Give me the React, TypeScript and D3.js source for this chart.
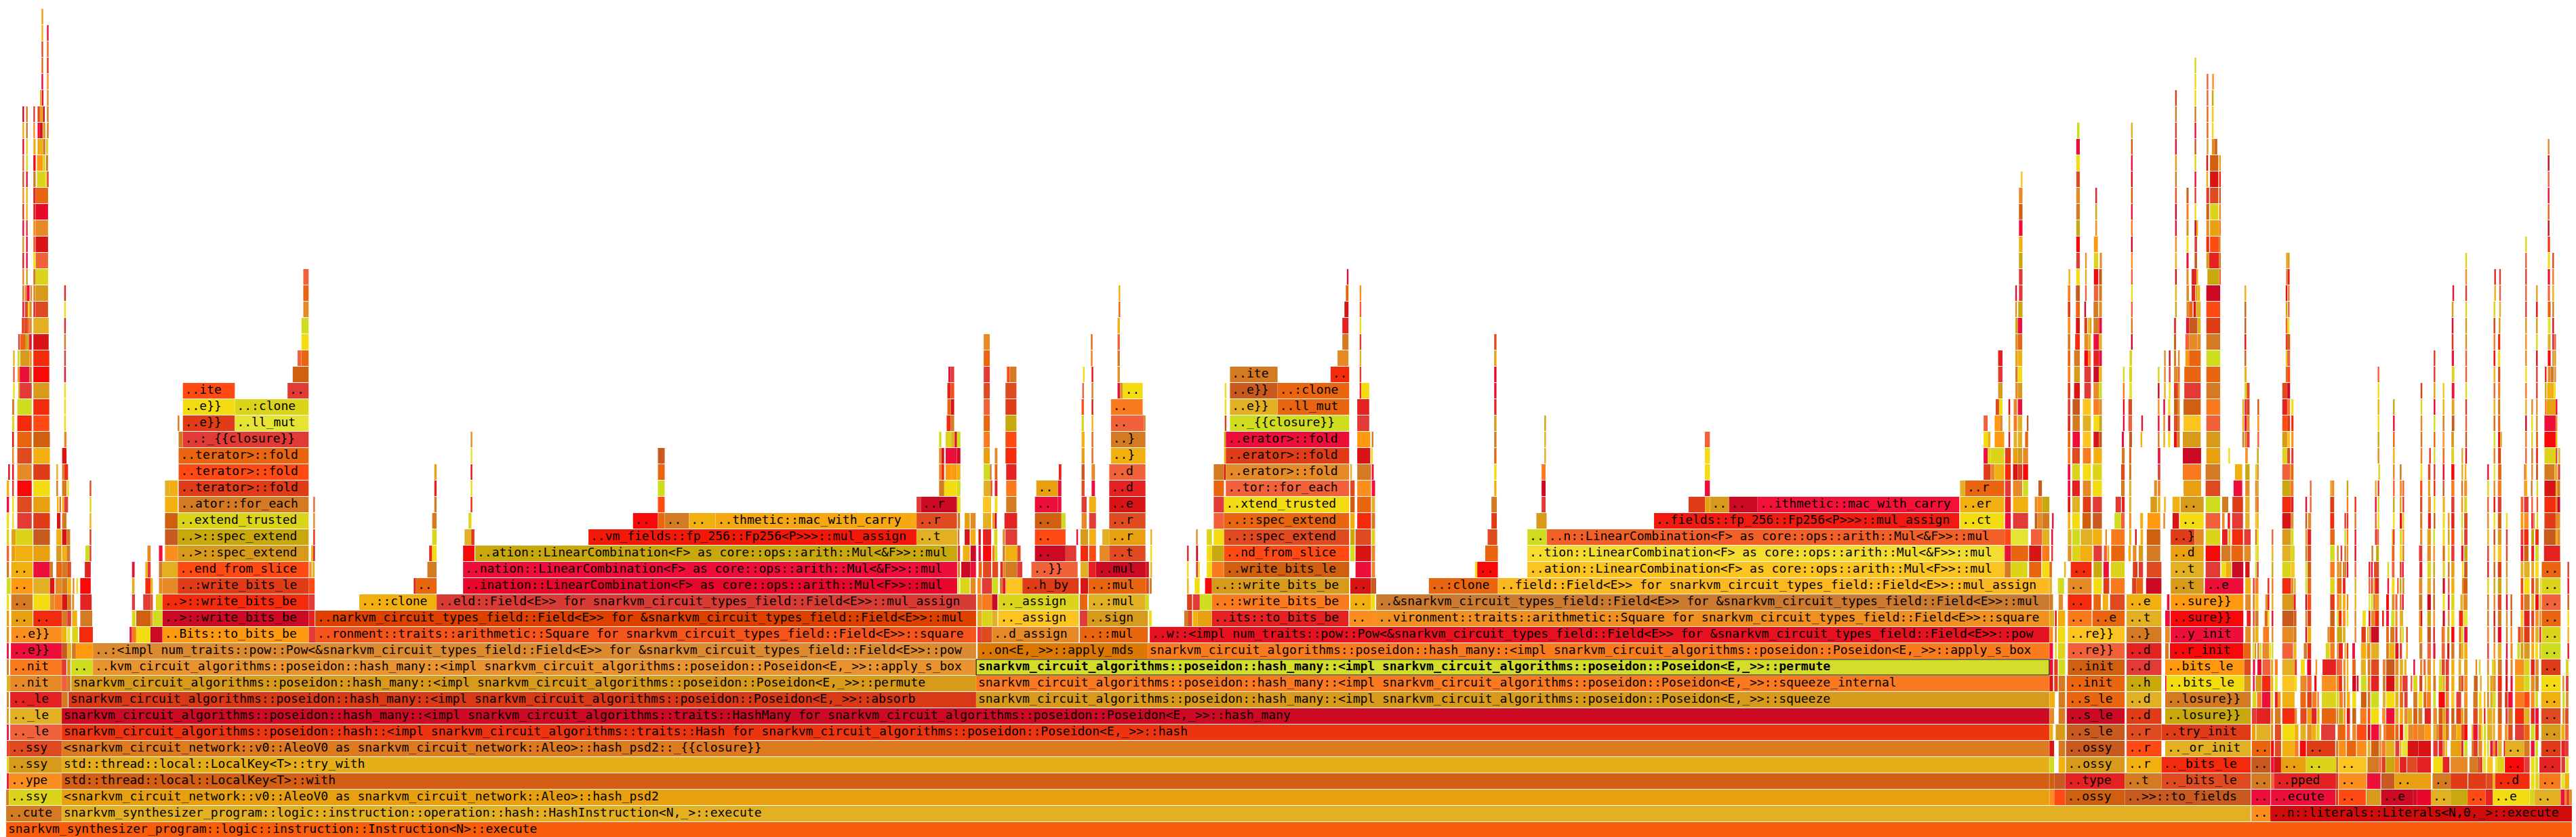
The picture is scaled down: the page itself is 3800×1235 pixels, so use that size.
import React from "react";
import * as d3 from "d3";

// Flame-graph colours, addressed by short keys from the stacks below.
const palette: Record<string, string> = {
  A: "#f80808", B: "#e8082a", C: "#cc0a24", D: "#d81414", E: "#e52222", F: "#e23a34", G: "#f42a0c", H: "#e03c18",
  I: "#ff4a14", J: "#f95d0a", K: "#e9650f", L: "#fa7a1e", M: "#fa8e1e", N: "#e68a28", O: "#d47a22", P: "#d06010",
  Q: "#c85a20", R: "#f2623a", S: "#e8a010", T: "#e2b022", U: "#f2b010", V: "#fcc420", W: "#f4dc12", X: "#dcd41a",
  Y: "#d0dc20", Z: "#e6e432", a: "#c8a80c", b: "#d89a1a", c: "#ee0e3a", d: "#e04a20", e: "#ff9a10",
  g1: "#ed3410", g2: "#d83a18", g3: "#de7b20", g4: "#d45f14", g5: "#e6ae18", g7: "#dc8a30", g8: "#ea9430", g9: "#f5541a",
  h1: "#de4000", h2: "#d83a34", h4: "#e8062a", h5: "#f5a812", h6: "#f41808", h7: "#e61220", h8: "#f09020", h9: "#cc7a30",
  i1: "#fbb820", i2: "#f4dc30", i4: "#f26027", i5: "#f01a10", i6: "#f41038", i7: "#d4dc2c", i8: "#fa7a22", j1: "#cf0c0c", j2: "#dc7800",
};

const rootFrame = "snarkvm_synthesizer_program::logic::instruction::Instruction<N>::execute";
const activeFrame = "snarkvm_circuit_algorithms::poseidon::hash_many::<impl snarkvm_circuit_algorithms::poseidon::Poseidon<E,_>>::permute";

type Stack = [number, string][];

// Each stack: [depth, "from to colour label;..."] in sample offsets along the stack's own ruler.
const spineStack: Stack = [
  [0, `9 3794 J ${rootFrame}`],
  [1, "9 91 O ..cute;91 3320 T snarkvm_synthesizer_program::logic::instruction::operation::hash::HashInstruction<N,_>::execute;3321 3349 M ..;3349 3794 j1 ..n::literals::Literals<N,0,_>::execute"],
  [2, "9 13 O;13 91 X ..ssy;91 3023 S <snarkvm_circuit_network::v0::AleoV0 as snarkvm_circuit_network::Aleo>::hash_psd2"],
  [3, "10 13 c;13 91 M ..ype;91 3023 g4 std::thread::local::LocalKey<T>::with"],
  [4, "10 13 X;13 91 b ..ssy;91 3023 g5 std::thread::local::LocalKey<T>::try_with"],
  [5, "10 13 H;13 91 d ..ssy;91 3023 g3 <snarkvm_circuit_network::v0::AleoV0 as snarkvm_circuit_network::Aleo>::hash_psd2::_{{closure}}"],
  [6, "10 13 c;15 91 R .._le;91 3023 g1 snarkvm_circuit_algorithms::poseidon::hash::<impl snarkvm_circuit_algorithms::traits::Hash for snarkvm_circuit_algorithms::poseidon::Poseidon<E,_>>::hash"],
  [7, "10 13 b;15 91 T .._le;91 3023 C snarkvm_circuit_algorithms::poseidon::hash_many::<impl snarkvm_circuit_algorithms::traits::HashMany for snarkvm_circuit_algorithms::poseidon::Poseidon<E,_>>::hash_many"],
  [8, "10 13 O;15 91 E .._le;91 100 O;101 1440 g2 snarkvm_circuit_algorithms::poseidon::hash_many::<impl snarkvm_circuit_algorithms::poseidon::Poseidon<E,_>>::absorb;1440 3023 b snarkvm_circuit_algorithms::poseidon::hash_many::<impl snarkvm_circuit_algorithms::poseidon::Poseidon<E,_>>::squeeze"],
  [9, "10 15 T;15 91 N ..nit;91 99 R;99 104 O;105 1440 b snarkvm_circuit_algorithms::poseidon::hash_many::<impl snarkvm_circuit_algorithms::poseidon::Poseidon<E,_>>::permute;1440 3023 i8 snarkvm_circuit_algorithms::poseidon::hash_many::<impl snarkvm_circuit_algorithms::poseidon::Poseidon<E,_>>::squeeze_internal"],
  [10, `10 13 O;15 91 L ..nit;91 98 F;99 104 b;105 137 Y ..;137 1440 g8 ..kvm_circuit_algorithms::poseidon::hash_many::<impl snarkvm_circuit_algorithms::poseidon::Poseidon<E,_>>::apply_s_box;1440 3023 i7 ${activeFrame}`],
  [11, "10 13 c;16 91 c ..e}};91 99 Q;99 105 T;106 112 O;112 137 e;137 1440 g7 ..:<impl num_traits::pow::Pow<&snarkvm_circuit_types_field::Field<E>> for &snarkvm_circuit_types_field::Field<E>>::pow;1442 1693 j2 ..on<E,_>>::apply_mds;1693 3023 L snarkvm_circuit_algorithms::poseidon::hash_many::<impl snarkvm_circuit_algorithms::poseidon::Poseidon<E,_>>::apply_s_box"],
  [12, "465 1440 g9 ..ronment::traits::arithmetic::Square for snarkvm_circuit_types_field::Field<E>>::square;1696 3023 h7 ..w::<impl num_traits::pow::Pow<&snarkvm_circuit_types_field::Field<E>> for &snarkvm_circuit_types_field::Field<E>>::pow"],
  [13, "465 1440 h1 ..narkvm_circuit_types_field::Field<E>> for &snarkvm_circuit_types_field::Field<E>>::mul;2030 3023 h8 ..vironment::traits::arithmetic::Square for snarkvm_circuit_types_field::Field<E>>::square"],
  [14, "644 1440 h2 ..eld::Field<E>> for snarkvm_circuit_types_field::Field<E>>::mul_assign;2030 3023 h9 ..&snarkvm_circuit_types_field::Field<E>> for &snarkvm_circuit_types_field::Field<E>>::mul"],
  [15, "683 1412 h4 ..ination::LinearCombination<F> as core::ops::arith::Mul<F>>::mul;2210 3023 i1 ..field::Field<E>> for snarkvm_circuit_types_field::Field<E>>::mul_assign"],
  [16, "683 1412 c ..nation::LinearCombination<F> as core::ops::arith::Mul<&F>>::mul;2253 2957 V ..ation::LinearCombination<F> as core::ops::arith::Mul<F>>::mul"],
  [17, "701 1412 a ..ation::LinearCombination<F> as core::ops::arith::Mul<&F>>::mul;2253 2957 i2 ..tion::LinearCombination<F> as core::ops::arith::Mul<&F>>::mul"],
  [18, "868 1352 h6 ..vm_fields::fp_256::Fp256<P>>>::mul_assign;1352 1412 T ..t"],
];

const leftStack: Stack = [
  [12, "22 30 b;37 205 M ..e}};205 220 U;222 232 Z;238 258 X;262 307 G;428 436 c;436 450 L;450 497 W;497 537 C;537 1020 e ..Bits::to_bits_be;1020 1042 F"],
  [13, "22 30 S;37 108 S ..;110 205 G ..;205 222 O;222 235 F;238 255 U;265 305 O;436 448 X;450 498 P;498 505 N;506 537 Y;537 1020 C ..>::write_bits_be;1020 1040 E"],
  [14, "22 30 W;37 108 O ..;110 165 W;165 180 N;180 205 L;205 222 D;222 235 O;238 245 N;265 303 E;436 446 F;473 498 F;498 505 d;515 537 X;537 1020 G ..>::write_bits_be;1020 1040 F;1187 1443 U ..::clone"],
  [15, "22 35 Y;37 108 e ..;110 165 T;165 180 D;183 205 N;205 222 O;222 235 U;240 245 N;252 256 W;265 300 A;436 445 T;480 498 G;498 505 U;525 537 N;537 587 N;587 1020 H ..:write_bits_le;1020 1040 I;1367 1373 D;1373 1443 K .."],
  [16, "22 30 O;37 108 U ..;110 165 c;165 175 O;186 205 K;205 222 O;222 235 d;280 300 E;436 445 c;480 488 U;488 498 F;525 537 O;537 587 T;587 1020 I ..end_from_slice;1022 1030 M;1032 1040 T;1412 1443 O"],
  [17, "22 30 R;38 50 S;50 108 U;110 165 S;186 203 b;205 220 U;220 232 O;282 296 Y;296 300 F;487 498 N;525 537 c;545 587 M;587 1020 b ..>::spec_extend;1028 1035 U;1035 1040 D;1418 1428 G;1428 1443 W;1530 1568 A"],
  [18, "22 30 X;38 52 S;52 108 X;110 165 Q;186 203 U;205 220 D;220 232 O;296 300 H;545 587 Q;587 1020 a ..>::spec_extend;1035 1040 G;1428 1443 X;1535 1557 T;1557 1568 H"],
  [19, "22 30 W;40 46 Z;57 105 F;110 165 H;188 200 D;205 220 O;296 300 U;545 587 P;587 1020 X ..extend_trusted;1035 1040 N;1428 1443 O;1548 1558 X"],
  [20, "22 30 c;40 46 W;57 105 d;110 165 S;188 192 U;196 200 O;205 212 U;212 225 F;296 300 X;545 587 U;590 1020 O ..ator::for_each;1035 1040 R;1435 1443 O;1555 1558 G"],
  [21, "22 30 U;40 46 F;57 105 A;110 165 W;186 190 O;205 220 O;222 225 W;296 300 d;545 560 T;560 587 U;590 1020 H ..terator>::fold;1435 1443 E;1555 1558 W"],
  [22, "27 30 D;40 46 c;57 105 N;110 165 H;186 190 U;205 212 O;212 225 G;590 1020 I ..terator>::fold;1435 1443 S;1555 1558 D"],
  [23, "40 46 N;57 105 d;110 165 U;205 220 D;590 1020 K ..terator>::fold;1555 1558 Z"],
  [24, "40 46 D;57 105 K;110 165 P;212 220 N;590 604 O;604 1020 F ..:_{{closure}};1555 1558 N"],
  [25, "40 47 X;57 105 G;110 163 I;212 216 W;587 590 O;604 776 H ..e}};776 1020 Z ..ll_mut"],
  [26, "40 47 O;57 105 Y;110 163 G;212 216 W;604 776 W ..e}};776 1020 X ..:clone"],
  [27, "43 47 W;60 65 T;65 105 F;110 163 b;212 216 W;604 776 I ..ite;950 1020 F .."],
  [28, "43 47 R;58 65 M;65 97 c;97 105 O;110 163 A;212 216 c;967 1020 P"],
  [29, "43 47 U;58 65 Y;67 97 b;97 105 M;110 163 G;212 216 F;983 996 R;996 1020 K"],
  [30, "60 65 F;67 85 K;85 93 a;93 97 O;97 105 c;110 161 D;212 216 O;996 1020 W"],
  [31, "72 80 H;80 92 d;92 97 R;97 105 N;110 161 T;212 216 E;996 1020 Y"],
  [32, "74 80 c;82 92 d;92 97 W;97 105 N;110 118 F;118 159 d;212 216 W;1002 1020 N"],
  [33, "74 80 O;82 88 N;88 98 c;100 105 N;110 118 N;118 159 b;212 216 E;1002 1020 K"],
  [34, "74 78 L;86 91 a;110 118 O;118 159 X;1002 1020 R"],
  [35, "74 78 E;86 91 c;110 118 W;118 159 R"],
  [36, "74 78 b;86 91 c;110 118 R;118 159 D"],
  [37, "74 78 c;86 91 F;110 118 M;118 159 N"],
  [38, "74 78 H;86 91 U;110 118 E;118 159 B"],
  [39, "74 78 M;86 91 U;110 118 E;118 159 K"],
  [40, "74 78 Q;86 91 c;110 118 O;122 150 X;150 155 Z;155 159 F"],
  [41, "74 78 R;86 91 Y;110 118 A;122 142 e;142 150 X;152 159 O"],
  [42, "74 78 c;86 91 X;110 118 U;124 132 S;132 142 U;142 150 O;152 159 X"],
  [43, "74 78 U;86 91 O;110 115 M;124 132 c;132 141 D;142 150 b;155 159 O"],
  [44, "74 78 C;86 91 O;110 115 F;124 132 d;132 142 S;142 147 C;155 159 O"],
  [45, "132 138 T;138 141 c;155 159 N"],
  [46, "137 141 c;155 159 M"],
  [47, "137 141 K;155 159 G"],
  [48, "137 141 d;155 159 K"],
  [49, "137 141 U;155 159 c"],
  [50, "137 141 S"],
];

const mulCarryStack: Stack = [
  [19, "458 530 A ..;530 550 K;550 620 O ..;620 697 U ..;697 1278 h5 ..thmetic::mac_with_carry;1278 1395 d ..r"],
  [20, "530 550 I;1278 1290 F;1290 1395 C ..r;1395 1405 Y"],
  [21, "530 550 Y;1343 1358 O;1358 1395 W;1395 1405 Y"],
  [22, "530 550 K;1343 1350 L;1350 1358 G;1362 1378 e;1378 1395 e;1395 1405 U"],
  [23, "530 550 Q;1343 1350 N;1350 1358 D;1362 1395 c;1395 1405 C"],
  [24, "1343 1350 Y;1362 1378 X;1378 1388 T;1388 1395 D;1395 1405 Y"],
  [25, "1365 1377 G;1377 1387 O"],
  [26, "1367 1377 K;1377 1387 D"],
  [27, "1367 1377 E;1377 1387 I"],
  [28, "1370 1377 c;1377 1387 F"],
];

const mdsStack: Stack = [
  [12, "82 94 F;94 124 d;124 375 N ..d_assign;378 575 K ..::mul"],
  [13, "82 95 T;95 124 X;124 140 T;142 375 V .._assign;378 400 F;400 575 b ..sign;578 586 W;680 690 O;690 703 d;705 718 U;718 760 S;760 1155 E ..its::to_bits_be;1157 1235 M .."],
  [14, "82 95 N;95 124 L;124 140 C;142 375 X .._assign;378 400 K;403 568 T ..:mul;568 578 Y;688 703 H;705 725 F;725 760 Y;760 1157 L ..::write_bits_be;1160 1220 U ..;1220 1232 W"],
  [15, "25 30 Z;32 60 X;62 77 N;82 92 M;95 124 F;124 142 Y;147 155 O;155 163 c;163 212 V;212 375 H ..h_by;380 402 D;403 570 K ..:mul;570 578 d;580 586 O;688 692 U;710 725 W;740 760 A;760 1157 b ..::write_bits_be;1160 1220 D ..;1220 1235 Q;1387 1587 K ..:clone"],
  [16, "25 32 N;35 62 C;62 78 c;85 95 K;98 122 d;125 142 d;148 155 E;155 163 N;163 197 O;197 212 F;238 372 R ..}};380 402 T;403 425 E;425 570 C ..mul;570 578 D;582 586 U;688 692 W;714 720 F;720 725 W;745 760 W;760 795 L;795 1157 P ..write_bits_le;1175 1220 c;1222 1232 N;1520 1527 W;1527 1587 A .."],
  [17, "25 32 F;40 60 U;62 78 C;85 92 c;98 122 A;125 132 L;132 140 Y;155 162 O;163 197 U;197 207 d;248 337 C ..;337 368 F;380 402 G;405 425 I;435 463 N;463 568 d ..t;582 587 W;688 692 E;714 720 C;745 760 W;760 795 a;795 1157 I ..nd_from_slice;1160 1173 Y;1175 1220 D;1222 1232 N;1550 1587 K"],
  [18, "25 30 O;45 60 D;62 77 U;85 92 D;98 122 E;130 140 X;155 162 N;163 197 F;248 337 I ..;368 372 c;380 402 b;405 425 U;443 463 T;463 568 S ..r;582 587 U;714 718 N;745 760 X;765 795 W;795 1157 d ..::spec_extend;1160 1173 a;1175 1220 d;1222 1232 X;1557 1585 d"],
  [19, "25 32 O;45 60 S;62 77 N;98 122 T;125 132 S;132 138 C;160 197 E;248 325 P ..;325 337 Y;383 398 N;405 425 F;463 568 d ..r;765 795 R;795 1157 K ..::spec_extend;1160 1173 U;1180 1220 G;1222 1232 O"],
  [20, "25 32 W;98 122 V;132 140 W;165 195 O;248 315 c ..;315 325 c;383 398 F;405 425 U;463 568 D ..e;765 795 F;795 1157 W ..xtend_trusted;1160 1173 P;1180 1220 K;1222 1232 T"],
  [21, "100 120 T;120 122 d;132 140 E;165 195 L;252 315 S ..;315 325 c;383 392 d;412 422 c;463 568 E ..d;765 795 K;800 1157 R ..tor::for_each;1160 1173 d;1180 1220 M;1222 1232 c"],
  [22, "100 118 Y;118 122 O;132 140 K;165 195 E;317 325 E;383 392 Q;412 422 N;463 568 R ..d;765 795 O;795 800 D;800 1157 N ..erator>::fold;1160 1165 T;1180 1220 O;1222 1228 c"],
  [23, "100 118 S;132 140 N;163 195 G;383 392 S;412 417 K;468 568 U ..};795 800 U;800 1157 H ..erator>::fold;1180 1218 D;1220 1225 W"],
  [24, "100 118 L;163 195 I;383 392 U;412 417 K;468 568 O ..};795 800 a;800 1157 c ..erator>::fold;1180 1218 e;1222 1225 O"],
  [25, "100 118 K;163 195 a;383 390 X;412 417 U;468 563 R ..;563 566 O;797 802 H;812 1157 Y .._{{closure}};1180 1215 F"],
  [26, "100 118 R;163 195 H;383 390 I;412 417 D;468 560 L ..;797 802 W;812 950 T ..e}};950 1157 K ..ll_mut;1180 1215 E"],
  [27, "100 118 d;163 195 d;385 390 R;412 417 O;487 495 c;495 503 b;503 560 W ..;797 802 W;812 950 Q ..e}};950 1157 K ..:clone;1187 1191 c;1191 1215 W"],
  [28, "100 118 F;167 175 I;175 195 O;387 390 W;412 417 A;487 494 N;812 950 O ..ite;1103 1157 G ..;1187 1191 F"],
  [29, "100 118 K;410 415 L;487 494 O;1123 1155 N;1187 1190 T"],
  [30, "100 118 N;410 415 K;487 494 R;1137 1155 O;1187 1190 F"],
  [31, "487 494 U;1137 1155 E;1187 1190 W"],
  [32, "490 494 K;1143 1155 D;1187 1190 R"],
  [33, "490 494 U;1147 1155 K;1187 1190 M"],
  [34, "1150 1155 c"],
];

const squareStack: Stack = [
  [16, "1484 1502 O;1502 1550 X;1555 1568 K"],
  [17, "1484 1502 c;1502 1552 K;1555 1568 E"],
  [18, "104 160 Y ..;160 1484 i4 ..n::LinearCombination<F> as core::ops::arith::Mul<&F>>::mul;1484 1502 I;1502 1552 Z;1560 1568 R"],
  [19, "0 16 H;130 160 b;470 1353 i5 ..fields::fp_256::Fp256<P>>>::mul_assign;1355 1483 W ..ct;1485 1502 c;1508 1552 F"],
  [20, "0 16 O;145 157 F;570 618 H;618 632 S;632 687 b ..;687 770 C ..;770 1353 i6 ..ithmetic::mac_with_carry;1355 1483 U ..er;1485 1502 E;1508 1552 U"],
  [21, "8 15 U;145 157 C;617 632 c;1355 1370 T;1370 1483 K ..r;1485 1502 F;1508 1535 N;1537 1552 Y"],
  [22, "8 15 W;145 157 L;617 632 W;1423 1443 H;1443 1455 N;1455 1483 U;1485 1502 G;1508 1522 D;1522 1535 H;1537 1552 A"],
  [23, "8 15 K;153 157 T;617 632 W;1423 1435 c;1435 1443 X;1443 1483 X;1485 1502 H;1508 1522 S;1522 1535 b;1537 1552 N"],
  [24, "8 15 O;153 157 T;617 632 R;1423 1435 W;1435 1443 U;1455 1483 e;1495 1500 c;1510 1520 T;1522 1535 T;1543 1552 K"],
  [25, "8 15 b;153 157 a;1423 1435 R;1455 1470 e;1470 1478 N;1495 1500 S;1510 1520 L;1522 1535 T;1548 1552 Q"],
  [26, "8 15 E;1458 1468 d;1468 1478 W;1495 1500 A;1510 1520 N;1522 1535 c"],
  [27, "8 15 c;1465 1478 b;1515 1522 N;1522 1535 b"],
  [28, "8 15 B;1465 1478 F;1515 1522 O;1522 1535 W"],
  [29, "8 15 S;1465 1478 E;1515 1522 S;1522 1535 U"],
  [30, "8 15 d;1515 1522 N;1522 1535 K"],
  [31, "1515 1522 a;1522 1535 c"],
];

const toFieldsStack: Stack = [
  [2, "135 148 M;148 178 I;178 340 P ..ossy;340 683 Q ..>>::to_fields"],
  [3, "135 148 P;148 178 Q;178 340 E ..type;340 440 O ..t;440 683 d .._bits_le"],
  [4, "135 148 Y;160 178 U;180 340 b ..ossy;345 440 U ..r;440 683 G .._bits_le"],
  [5, "135 148 D;160 178 O;180 340 Q ..ossy;345 440 I ..r;450 683 T .._or_init"],
  [6, "135 145 U;152 178 b;182 340 Q ..s_le;345 440 d ..r;440 683 H ..try_init"],
  [7, "135 148 N;160 178 O;182 340 C ..s_le;345 440 H ..d;450 683 a ..losure}}"],
  [8, "135 150 U;160 178 O;182 340 K ..s_le;345 440 T ..d;450 683 O ..losure}}"],
  [9, "135 145 D;148 158 H;160 178 O;182 340 K ..init;345 440 a ..h;450 453 c;453 665 W ..bits_le;665 683 b"],
  [10, "135 145 c;148 158 H;160 178 Y;185 340 P ..init;345 440 F ..d;450 665 e ..bits_le;665 683 d"],
  [11, "135 145 c;150 155 Y;158 178 X;185 340 R ..re}};345 440 E ..d;450 460 O;463 663 A ..r_init;663 683 K"],
  [12, "135 145 M;150 155 O;158 178 W;185 340 V ..re}};345 440 O ..};450 463 N;465 663 c ..y_init;668 683 N"],
  [13, "135 148 T;150 155 D;158 178 U;185 250 L ..;252 340 K ..e;345 440 T ..t;450 463 c;465 663 A ..sure}};672 683 E"],
  [14, "135 145 O;160 172 N;185 250 G ..;255 275 K;280 295 U;300 340 d;345 440 U ..e;455 462 c;465 663 e ..sure}};668 683 N"],
  [15, "135 142 T;158 175 Y;185 250 N ..;255 278 W;282 298 H;302 340 L;360 372 H;372 390 K;398 440 C;465 555 b ..t;558 663 c ..e;668 683 U"],
  [16, "80 113 K;115 135 W;135 142 K;175 178 U;193 250 G ..;255 278 a;282 297 c;302 340 X;362 375 H;378 390 F;400 440 d;465 555 T ..t;560 600 F;603 615 W;615 630 U;632 663 C;668 680 D"],
  [17, "80 113 D;115 135 L;140 145 F;185 195 N;197 218 X;218 252 U;255 278 F;283 292 R;293 298 U;303 340 K;350 357 U;362 372 N;378 390 b;400 437 O;465 555 S ..d;560 600 A;603 628 O;630 662 K;665 683 N"],
  [18, "85 115 R;115 135 T;140 145 c;185 195 T;197 218 Y;220 252 T;253 278 U;287 290 N;303 340 L;352 358 U;368 372 D;383 390 U;400 437 P;465 530 H ..};530 555 N;560 600 X;605 620 E;622 628 U;632 662 G;665 683 F"],
  [19, "95 102 Q;102 115 N;115 135 O;142 146 c;185 192 U;197 218 W;225 248 P;253 278 Q;312 330 Y;330 340 R;352 358 M;382 390 U;402 437 e;445 450 N;470 488 D;490 555 W ..;560 600 R;605 612 N;620 627 E;632 662 F;668 680 T"],
  [20, "95 102 N;102 115 M;115 135 a;185 192 D;197 218 T;226 248 H;253 278 F;315 330 F;332 340 E;352 358 T;410 428 b;430 437 U;447 450 U;470 490 U;492 555 b ..;560 600 Y;605 622 O;633 662 H;668 680 T"],
  [21, "105 115 Q;185 192 c;197 218 E;226 248 N;253 278 W;330 340 O;352 358 T;420 428 N;430 437 L;500 548 S;560 600 d;636 660 c;668 680 N"],
  [22, "185 192 c;197 218 X;226 248 W;253 278 X;330 340 d;352 358 O;430 437 F;498 548 L;560 600 O;640 660 U;668 680 a"],
  [23, "185 192 L;197 218 d;226 248 L;255 278 U;332 340 O;352 358 K;430 437 c;498 548 C;562 600 S;622 625 W;668 675 M"],
  [24, "185 192 K;198 218 c;226 248 V;255 270 D;270 278 Q;332 338 c;352 360 Q;383 387 U;430 434 O;445 450 T;458 464 W;474 482 A;482 490 O;498 547 b;562 600 b;660 664 O;666 672 N;672 680 F"],
  [25, "185 192 E;198 218 O;226 248 T;255 270 W;270 278 a;335 338 c;350 360 R;385 387 c;430 434 c;445 450 N;458 464 C;474 485 d;485 490 O;500 547 V;562 600 R;660 663 U;666 672 c;672 680 N"],
  [26, "185 192 F;198 218 Q;226 248 V;255 270 L;270 278 N;335 338 A;350 360 d;430 434 M;445 450 c;458 464 W;474 485 P;485 490 N;500 547 P;562 600 L;660 663 T;666 672 F;672 680 H"],
  [27, "185 192 H;202 218 D;230 248 F;255 270 N;270 278 Y;335 338 L;352 360 Z;430 433 C;447 450 U;460 464 W;474 485 H;485 490 N;502 547 F;562 600 O;666 672 X;672 680 d"],
  [28, "185 192 L;202 218 b;230 248 F;255 270 C;270 278 U;335 338 Y;352 360 X;430 433 X;447 450 N;460 464 F;474 485 N;485 490 R;502 547 K;562 600 K;666 672 U"],
  [29, "185 192 K;202 218 O;230 240 A;240 248 L;255 270 E;270 278 c;353 360 X;447 450 N;460 464 C;474 480 O;485 488 N;505 515 e;515 547 K;562 600 Y;666 670 P"],
  [30, "185 192 O;205 218 G;230 240 N;240 248 T;255 270 c;270 278 T;357 360 C;474 480 P;505 515 R;515 538 N;538 547 N;562 600 O;666 670 A"],
  [31, "185 192 M;207 218 D;230 238 H;240 245 U;245 248 a;255 270 O;270 278 c;357 360 O;474 480 F;507 515 c;515 538 Q;538 547 T;562 600 H;666 670 Q"],
  [32, "42 46 N;50 62 a;185 192 H;207 218 K;230 234 C;255 268 O;270 278 N;357 360 R;477 480 a;508 515 N;515 525 K;527 534 D;534 547 T;562 600 I;666 670 P"],
  [33, "42 45 c;52 62 F;185 192 L;207 218 Q;232 235 R;256 268 R;270 278 O;357 360 W;477 480 U;508 515 N;522 532 E;533 538 S;538 545 U;562 600 C;666 670 U"],
  [34, "52 62 F;187 190 U;208 218 W;232 235 T;256 268 A;270 278 Q;357 360 R;477 480 D;508 514 N;522 535 E;535 538 U;565 597 a;597 600 R"],
  [35, "52 62 a;208 218 F;232 235 M;256 268 X;272 278 N;357 360 M;477 480 U;508 514 c;530 537 Q;562 570 b;570 597 E;597 600 O"],
  [36, "52 62 U;208 218 A;256 267 e;357 360 C;477 480 M;508 514 W;530 537 F;562 570 G;572 596 I;596 600 O"],
  [37, "52 62 c;208 218 a;260 265 M;357 360 L;477 480 c;508 514 N;530 535 C;535 538 U;562 570 N;572 597 S;597 600 L"],
  [38, "52 62 P;208 218 O;260 264 a;357 360 c;477 480 C;508 514 L;530 533 W;562 570 P;572 595 X;597 600 N"],
  [39, "52 62 N;208 218 N;260 264 E;357 360 P;477 480 I;508 514 P;530 533 F;562 570 F;572 595 d;597 600 Q"],
  [40, "57 62 V;208 218 d;357 360 D;477 480 O;530 533 c;562 567 U;572 595 D;597 600 G"],
  [41, "208 218 W;357 360 c;477 480 S;530 533 X;562 567 D;572 595 P;597 600 S"],
  [42, "208 218 c;357 360 P;477 480 c;530 533 Q;563 567 b;577 585 N;585 592 P"],
  [43, "210 217 Y;357 360 T;477 480 F;530 533 c;563 567 K;577 582 W"],
  [44, "477 480 O;530 533 O;563 567 K;577 582 V"],
  [45, "477 480 H;530 533 W;563 567 R;577 582 a"],
  [46, "530 533 W;563 566 R;578 582 M"],
  [47, "530 533 X"],
];

const literalsStack: Stack = [
  [2, "3 88 c ..;90 376 c ..ecute;377 388 H;390 510 I ..;512 575 b;577 720 C ..e"],
  [3, "90 103 R;3 88 O ..;103 378 E ..pped;378 388 H;390 513 M ..;515 575 c;578 637 Q;637 798 S .."],
  [4, "3 88 Q ..;90 103 c;103 135 D;135 245 S ..;245 378 X ..;378 388 O;390 513 V ..;517 568 O;568 578 R;580 597 H;598 637 a;637 658 L;660 690 E;692 737 d"],
  [5, "5 88 K ..;90 103 A;107 135 d;140 195 U;195 212 L;218 245 A;248 375 H ..;378 388 O;390 422 M;425 467 K;470 513 M;518 530 T;533 568 P;570 578 N;580 597 L;598 637 T;640 658 F;660 668 U;670 695 Z;695 742 D"],
  [6, "5 22 S;25 88 T;90 100 N;107 135 d;140 195 W;195 212 U;220 245 T;250 270 N;270 290 U;292 305 X;312 375 F;385 420 K;425 440 R;450 467 N;470 513 I;518 530 D;533 568 c;570 578 N;588 598 L;598 637 K;640 655 K;660 675 A;680 695 Z;697 720 N"],
  [7, "5 25 F;25 88 E;90 100 N;107 133 O;140 195 G;195 205 N;220 248 d;250 270 S;270 292 E;295 305 U;315 378 K;380 388 N;390 410 a;412 420 M;425 440 D;450 467 P;485 513 L;518 530 I;533 568 W;582 597 M;600 637 c;640 655 T;660 675 U;680 695 N;695 715 T"],
  [8, "8 25 X;28 48 L;50 88 c;90 100 X;107 120 E;120 133 M;140 195 U;220 245 K;250 270 H;272 292 L;295 300 N;315 378 X;380 390 Y;392 408 L;412 420 O;425 440 U;450 467 W;488 513 P;518 530 O;533 568 Y;585 597 T;600 637 W;640 655 T;660 675 K;680 695 F"],
  [9, "10 18 c;22 48 b;50 88 G;90 100 U;107 120 Z;140 195 V;195 205 W;220 248 N;250 270 R;282 292 A;315 378 M;380 390 N;390 405 G;412 420 O;425 430 U;450 467 C;470 478 D;488 513 Y;518 530 L;533 568 E;585 597 O;600 637 D;640 655 T;660 670 L;672 695 F;708 715 R"],
  [10, "10 20 c;30 48 B;52 88 R;90 100 T;107 120 L;140 195 T;195 205 F;222 240 W;250 268 B;287 292 M;318 378 E;380 405 R;410 420 M;425 432 U;450 465 K;488 510 T;518 530 O;533 568 d;585 597 L;600 637 Q;640 655 N;660 675 T;680 690 U"],
  [11, "8 15 Y;17 25 N;30 35 O;40 45 X;52 82 N;82 88 W;93 98 Y;140 188 R;190 203 U;235 250 O;252 268 G;332 350 X;352 372 L;382 388 N;390 408 E;415 420 U;425 432 H;450 462 c;488 512 U;515 530 N;533 568 T;600 612 O;613 637 U;640 655 D;660 670 F;688 692 U"],
  [12, "10 15 N;20 35 U;55 82 L;93 98 N;140 190 N;190 203 O;242 250 D;252 268 U;340 350 N;350 372 K;382 405 a;408 420 T;460 465 N;490 510 H;515 520 T;525 532 N;533 568 C;600 612 K;618 637 O;640 650 F;660 668 T;670 675 Y;688 692 d"],
  [13, "10 15 d;20 35 O;62 75 K;75 80 W;93 98 c;140 190 Q;190 203 P;242 250 O;252 268 H;352 372 P;382 390 Y;390 403 G;408 420 M;425 432 W;460 465 N;495 510 W;522 530 D;533 550 N;550 568 G;582 588 A;600 612 c;622 637 Y;640 650 M;660 675 T"],
  [14, "10 15 O;20 35 V;65 75 N;75 80 A;93 98 T;140 190 b;190 200 E;242 250 C;252 268 I;352 372 H;382 390 L;390 403 T;408 420 U;425 430 N;460 465 U;522 530 Z;533 540 Y;543 550 O;550 568 M;600 612 A;625 637 N;640 650 R;660 668 O;670 675 c"],
  [15, "10 15 F;20 35 L;75 80 G;93 98 L;140 178 G;178 190 N;192 200 T;242 250 Y;252 268 K;352 372 X;382 403 K;408 420 E;460 465 T;522 530 R;533 540 F;543 550 T;550 568 E;605 612 c;625 637 W;648 655 R;660 668 a;672 675 O"],
  [16, "20 25 Y;28 35 F;93 98 a;140 178 X;178 195 V;242 250 X;252 268 P;352 372 L;382 392 N;392 403 b;408 412 O;415 420 O;425 432 c;460 465 R;522 530 E;533 540 c;546 568 d;605 610 Y;625 637 R;660 668 H;670 675 c"],
  [17, "20 28 Z;28 35 X;93 98 U;140 178 T;178 195 X;242 250 O;252 268 d;352 372 Y;382 390 N;398 403 F;415 420 O;425 432 N;460 465 D;535 540 O;555 568 a;625 637 K;660 670 W;672 675 O"],
  [18, "20 28 O;28 35 W;93 98 R;140 178 b;178 190 Y;242 250 M;252 268 E;352 372 K;415 420 Y;425 432 L;460 465 E;550 560 F;560 568 R;625 630 U;630 637 F;660 670 Y;672 675 M"],
  [19, "20 28 V;28 35 U;140 178 D;178 190 N;242 250 Q;254 268 N;352 370 G;415 420 F;425 432 H;460 465 O;550 558 R;562 568 W;630 637 W;660 670 A;672 675 X"],
  [20, "20 28 N;28 35 K;140 178 G;178 190 E;242 250 c;262 268 R;352 370 H;425 432 L;460 465 G;550 558 c;562 568 X;630 636 a;660 668 S;672 675 F"],
  [21, "20 28 N;28 35 b;140 175 a;175 190 L;262 268 R;352 358 S;360 370 N;425 432 a;550 558 T;562 568 F;630 635 R;660 670 M;672 677 R"],
  [22, "20 28 X;28 36 N;140 175 R;175 180 M;180 190 K;565 570 X;630 635 N;660 668 O;752 760 W;785 796 d;810 815 F;850 858 B;888 902 A;933 940 T;947 955 U;1047 1052 c;1075 1083 Z;1095 1110 K;1210 1215 R;1215 1220 U;1242 1248 N;1263 1272 Q;1300 1345 O;1345 1358 T;1360 1370 F"],
  [23, "28 36 a;140 162 X;162 175 d;180 190 F;562 568 N;630 635 U;752 760 L;790 796 H;810 815 Y;850 856 K;888 900 X;933 938 T;950 955 B;1075 1083 L;1095 1108 H;1215 1220 R;1242 1248 O;1263 1272 G;1300 1350 X;1350 1357 d;1362 1370 T"],
  [24, "30 36 R;140 162 b;162 175 V;180 190 M;562 568 a;630 635 K;752 760 O;810 815 K;850 855 M;888 900 b;950 955 Q;1075 1083 Y;1095 1105 A;1105 1110 T;1215 1220 L;1242 1248 X;1263 1272 K;1300 1350 A;1350 1355 U"],
  [25, "30 36 M;140 162 I;162 175 H;180 190 G;562 568 W;630 635 c;752 760 N;810 815 Y;850 855 O;890 902 Q;950 955 R;1075 1083 K;1095 1105 K;1215 1220 C;1242 1248 W;1263 1270 N;1300 1350 c;1350 1356 N"],
  [26, "30 36 Q;140 162 E;162 175 L;180 190 W;562 568 U;630 635 a;752 760 X;810 815 B;850 855 U;890 902 S;950 955 F;1075 1083 U;1095 1105 O;1215 1220 T;1242 1248 N;1263 1270 N;1302 1310 L;1310 1350 S;1350 1356 c"],
  [27, "140 162 d;162 175 C;562 568 W;752 760 H;810 815 S;850 855 V;890 902 c;950 955 Y;1075 1083 R;1095 1105 L;1215 1220 L;1263 1270 F;1302 1308 a;1312 1342 U;1342 1350 W"],
  [28, "155 160 O;162 175 I;562 568 R;810 815 F;890 902 X;950 955 R;1075 1083 U;1095 1105 d;1215 1220 W;1263 1270 F;1302 1308 E;1315 1328 N;1328 1342 O;1344 1350 N"],
  [29, "155 160 X;162 175 R;810 815 H;890 900 c;950 955 R;1075 1083 A;1095 1105 W;1215 1220 N;1263 1270 D;1315 1328 A;1335 1342 N;1344 1350 b"],
  [30, "155 162 F;162 175 P;890 898 G;950 955 N;1075 1083 L;1095 1105 G;1215 1220 M;1263 1268 X;1315 1328 T;1335 1342 c;1344 1350 R"],
  [31, "155 162 R;162 172 W;890 898 B;950 955 b;1075 1083 H;1098 1105 b;1215 1220 b;1263 1270 b;1315 1328 Z;1335 1342 B"],
  [32, "155 162 a;165 172 R;890 898 b;950 955 X;1075 1083 X;1100 1105 T;1215 1220 F;1263 1268 A;1315 1328 K;1335 1342 O"],
  [33, "155 162 D;165 172 L;893 898 c;950 955 F;1078 1083 U;1100 1105 R;1215 1220 R;1263 1268 S;1315 1325 R;1335 1340 U"],
  [34, "157 162 O;165 172 A;950 955 M;1078 1083 E;1100 1105 F;1215 1220 F;1315 1325 c;1335 1340 L"],
  [35, "157 162 S;165 170 b;950 955 X;1215 1220 R;1315 1325 W;1335 1340 d"],
  [36, "1215 1220 X;1315 1325 G"],
  [37, "1315 1322 C"],
  [38, "1315 1322 K"],
  [39, "1315 1322 c"],
  [40, "1315 1322 R"],
  [41, "1315 1322 C"],
  [42, "1315 1322 N"],
];

const literalsTailStack: Stack = [
  [2, "0 15 C;15 78 B;78 165 T ..;165 240 a;240 320 I ..;320 352 E;352 515 W ..e;515 537 X;537 652 T ..;652 670 c;670 678 L;678 690 H;690 702 N"],
  [3, "85 165 O ..;165 240 H;243 322 H;322 352 d;352 362 U;362 515 G ..d;520 537 W;540 555 X;557 652 L ..;655 670 Z;670 690 U"],
  [4, "17 78 E;88 130 W;130 160 E;165 240 N;248 285 O;285 295 d;295 305 E;307 322 Z;327 352 V;362 372 Z;372 403 X;405 490 A ..;490 515 F;520 537 W;540 552 Y;558 652 E ..;655 672 F;675 687 W"],
  [5, "22 78 D;88 108 F;112 130 E;130 140 N;142 150 U;165 212 S;212 222 E;225 240 Y;258 265 O;265 285 H;288 305 N;312 322 W;327 335 Y;340 352 c;352 362 L;362 372 E;374 392 T;400 403 c;405 490 T ..;490 515 O;520 537 c;540 552 Y;566 652 H ..;655 672 E;672 687 F"],
  [6, "0 20 L;20 50 N;50 78 e;88 100 T;100 112 N;112 130 d;130 143 U;143 158 O;168 190 N;190 212 U;212 225 d;225 240 A;258 265 U;265 285 c;288 300 N;300 307 W;312 322 Y;327 350 T;352 362 T;374 392 L;405 418 M;420 440 d;450 490 F;490 515 K;520 537 Y;540 555 G;566 652 b ..;655 670 U;672 687 R"],
  [7, "0 18 P;22 40 O;50 78 E;88 105 N;112 130 P;130 142 S;143 158 F;168 182 P;190 212 H;212 222 S;225 240 O;265 285 d;290 305 U;312 318 E;327 350 T;352 362 S;374 392 P;408 418 F;420 440 O;450 490 G;490 515 T;520 537 E;540 555 c;566 652 d ..;660 670 N;672 687 d"],
  [8, "0 18 O;22 40 W;45 58 K;60 78 L;88 100 Y;112 140 A;143 158 N;168 182 V;190 212 F;225 240 M;265 285 O;290 302 W;312 318 U;327 335 O;340 352 T;352 365 Y;374 392 d;405 418 H;420 440 c;450 490 L;490 515 I;520 537 M;540 552 Y;566 652 U ..;660 670 Y;675 687 N"],
  [9, "0 18 X;27 40 H;50 58 U;62 78 U;88 100 O;112 130 X;130 140 T;143 158 d;168 182 U;200 212 O;212 222 d;225 240 M;268 285 P;295 302 T;327 335 T;340 352 S;352 365 N;374 392 G;408 418 D;430 440 c;450 490 U;490 515 Y;520 537 N;540 555 O;566 652 W ..;660 665 N;675 687 F"],
  [10, "0 8 c;30 40 N;45 55 R;62 78 N;88 95 U;115 122 X;125 140 d;143 158 F;168 182 U;200 212 T;225 240 S;275 282 N;290 295 Y;327 335 N;348 352 Y;355 365 U;374 392 O;408 418 E;430 440 N;450 490 M;490 515 X;520 537 E;540 555 N;566 652 H ..;675 687 X"],
  [11, "27 40 O;62 78 R;88 98 c;125 140 R;150 160 D;168 182 O;202 212 O;212 222 U;225 240 U;327 333 F;355 362 M;374 390 T;410 415 c;430 440 N;460 472 Y;475 487 b;490 515 b;522 535 U;540 552 W;558 565 T;566 652 Y ..;682 688 c"],
  [12, "25 30 N;30 40 U;62 78 Q;88 95 E;125 130 R;130 140 L;150 160 a;168 182 A;202 212 K;212 222 Y;225 240 c;327 333 L;355 362 Q;374 390 B;410 415 O;430 435 M;463 475 d;475 487 N;490 515 H;522 535 L;540 555 T;558 565 E;568 652 X ..;682 688 U"],
  [13, "25 30 N;32 40 D;62 78 a;88 95 M;130 140 C;153 160 N;168 182 W;202 220 G;222 240 Z;327 333 O;355 362 D;374 390 O;410 415 N;430 435 Q;475 487 V;490 515 E;522 535 F;540 555 M;558 565 N;568 652 K ..;682 688 W"],
  [14, "25 40 O;62 78 C;88 95 P;130 140 W;153 160 c;168 182 X;208 220 T;222 240 N;327 333 O;355 362 L;374 390 d;410 415 B;430 435 P;475 487 I;490 515 O;522 535 T;540 555 A;558 565 T;568 652 R ..;682 688 P"],
  [15, "25 40 N;62 78 T;88 95 O;130 140 C;153 160 R;168 182 U;215 222 N;222 240 P;327 333 X;355 362 a;374 390 a;410 415 T;475 487 d;490 515 W;522 535 d;540 555 b;560 568 Z;568 652 X ..;682 688 c"],
  [16, "27 40 E;62 78 X;88 95 a;130 140 X;153 160 O;168 182 S;215 222 W;225 240 Q;327 333 E;355 362 P;374 390 H;410 415 N;475 487 T;490 515 T;522 535 T;540 555 W;568 652 K ..;682 688 F"],
  [17, "25 40 F;62 78 N;88 95 M;130 140 K;153 160 W;168 182 F;212 222 c;225 240 a;327 333 F;355 362 U;374 390 V;410 415 d;475 487 c;490 510 P;522 535 E;540 555 Y;578 650 E"],
  [18, "30 40 N;62 78 S;88 95 Y;130 140 W;153 160 a;168 182 I;212 218 X;225 240 F;327 333 U;355 362 H;374 390 b;410 415 F;475 487 F;490 510 G;522 535 a;540 555 G;578 630 Q;630 637 U;637 650 N"],
  [19, "30 40 O;65 78 E;90 95 P;130 140 W;153 160 M;168 182 E;212 218 Y;225 240 d;327 333 N;355 362 W;374 390 P;410 415 W;475 487 S;490 510 M;522 530 c;530 535 N;545 552 X;580 630 H;630 650 N"],
  [20, "30 40 d;65 78 N;90 95 W;130 140 U;168 182 F;212 218 M;225 238 X;327 333 R;355 362 A;374 390 F;475 487 R;490 510 F;522 528 R;545 552 R;580 630 G;630 637 N;637 650 C"],
  [21, "30 40 I;65 75 S;90 95 G;130 137 Q;168 182 L;212 218 O;225 238 M;327 332 X;355 362 N;374 390 L;490 497 M;497 502 U;520 527 O;545 552 X;580 630 D;630 637 U;637 650 O"],
];

const WIDTH = 3800;
const HEIGHT = 1235;

// One linear ruler per stack: samples read along that stack -> page x.
const rulers: [Stack, d3.ScaleLinear<number, number>][] = [
  [spineStack, d3.scaleLinear().domain([0, 3800]).range([0, 3800])],
  [leftStack, d3.scaleLinear().domain([0, 2240]).range([0, 1000])],
  [mulCarryStack, d3.scaleLinear().domain([0, 1960]).range([700, 1700])],
  [mdsStack, d3.scaleLinear().domain([0, 1960]).range([1400, 2400])],
  [squareStack, d3.scaleLinear().domain([0, 1960]).range([2200, 3200])],
  [toFieldsStack, d3.scaleLinear().domain([0, 1845]).range([2950, 3950])],
  [literalsStack, d3.scaleLinear().domain([0, 720]).range([3320, 3560])],
  [literalsTailStack, d3.scaleLinear().domain([0, 720]).range([3560, 3800])],
];

const depthY = d3.scaleLinear().domain([0, 50]).range([1213, 13]);

type Frame = { depth: number; x0: number; x1: number; color: string; label: string };

const frames: Frame[] = rulers.flatMap(([stack, ruler]) =>
  stack.flatMap(([depth, row]) =>
    row.split(";").map((t) => {
      const p = t.split(" ");
      return { depth, x0: ruler(+p[0]), x1: ruler(+p[1]), color: palette[p[2]], label: p.slice(3).join(" ") };
    })
  )
);

const isActive = (f: Frame) => f.depth === 10 && f.label === activeFrame;

export default function App() {
  const ordered = [...frames.filter((f) => !isActive(f)), ...frames.filter(isActive)];
  return (
    <svg
      width={WIDTH}
      height={HEIGHT}
      viewBox={`0 0 ${WIDTH} ${HEIGHT}`}
      style={{ position: "absolute", left: 0, top: 0, background: "#fff" }}
      fontFamily="'DejaVu Sans Mono', monospace"
      fontSize={18}
    >
      {ordered.map((f, i) => {
        const active = isActive(f);
        const y = depthY(f.depth);
        return (
          <g key={i}>
            <rect
              x={f.x0 + 0.1}
              y={y}
              width={Math.max(f.x1 - f.x0 - 0.2, 2.4)}
              height={23}
              fill={f.color}
              stroke={active ? "#000" : "none"}
              strokeWidth={active ? 1 : 0}
            />
            {f.label && (
              <text x={f.x0 + 3} y={y + 16} fill="#000" fontWeight={active ? "bold" : "normal"}>
                {f.label}
              </text>
            )}
          </g>
        );
      })}
    </svg>
  );
}
